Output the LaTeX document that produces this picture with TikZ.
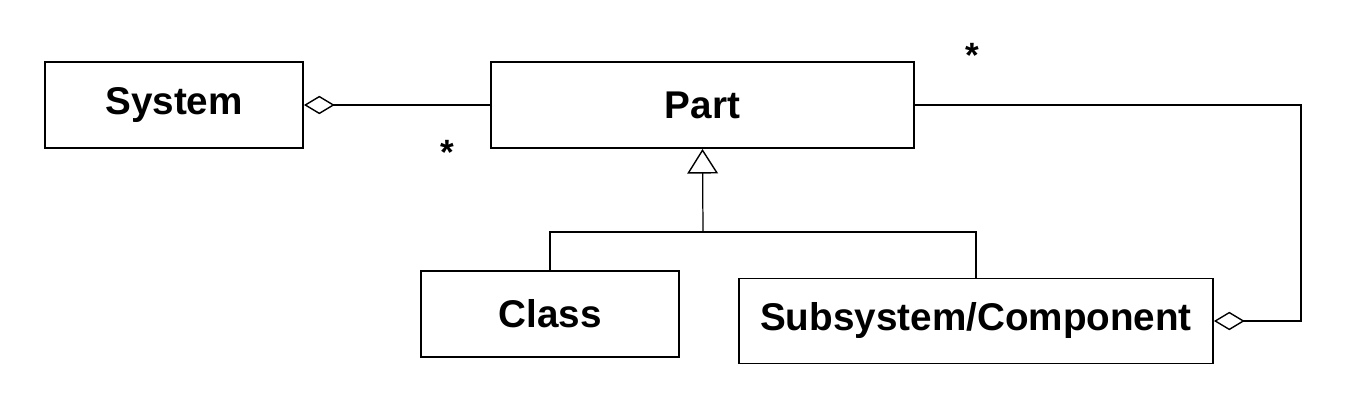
\documentclass[tikz,border=0pt]{standalone}
\usepackage{fontspec}
\setmainfont{Liberation Sans}
\usetikzlibrary{arrows.meta}

\begin{document}
\begin{tikzpicture}[x=0.02cm,y=-0.02cm,
                    block/.style={draw,rectangle,line width=1.1pt,inner sep=0pt,
                                  minimum height=1.72cm,font=\fontsize{22}{26}\selectfont\bfseries},
                    link/.style={line width=0.7pt},
                    aggr/.style={link,{Diamond[open,length=17.5pt,width=10.5pt,line width=0.8pt]}-},
                    gen/.style={link,-{Triangle[open,length=14pt,width=17.5pt,line width=0.8pt]}},
                    mult/.style={anchor=base,inner sep=0pt,font=\fontsize{20}{24}\selectfont\bfseries}]

 \useasboundingbox (0,0) rectangle (1350,408);

 \node[block,minimum width=5.16cm] (System) at (174,105)   {System};
 \node[block,minimum width=8.46cm] (Part)   at (702.5,105) {Part};
 \node[block,minimum width=5.16cm] (Class)  at (550,314)   {Class};
 \node[block,minimum width=9.48cm,minimum height=1.70cm] (Sub) at (976,321) {Subsystem/Component};

 \coordinate (fork) at (703,232);
 \coordinate (turn) at (1301,321);

 \draw[aggr] (System.east) -- (Part.west);
 \draw[gen]  (fork) -- (Part.south);
 \draw[link] (Class.north) |- (fork) -| (Sub.north);
 \draw[aggr] (Sub.east) -- (turn) |- (Part.east);

 \node[mult] (m1) at (447,165) {*};
 \node[mult] (m2) at (972,68)  {*};

\end{tikzpicture}
\end{document}
